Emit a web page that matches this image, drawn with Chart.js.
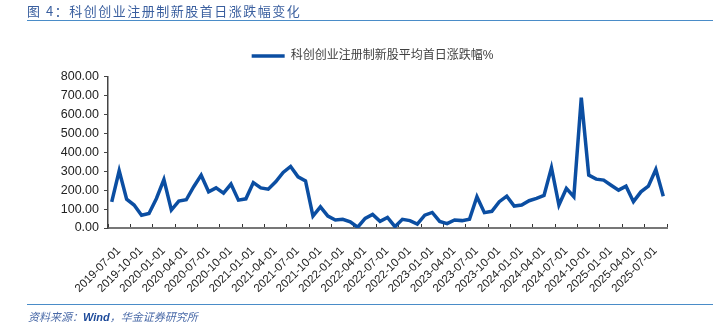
<!DOCTYPE html>
<html>
<head>
<meta charset="utf-8">
<script src="https://cdn.jsdelivr.net/npm/chart.js"></script>
<style>
    body { margin: 0; background: #fff; width: 713px; height: 329px; overflow: hidden; position: relative; font-family: 'Liberation Sans', 'Noto Sans CJK SC', sans-serif; }
    #title { position: absolute; left: 27px; top: 4px; font-size: 13px; letter-spacing: 1.5px; color: #3a5f9f; font-family: 'Noto Sans CJK SC', sans-serif; line-height: 14px; }
    #topline { position: absolute; left: 27px; right: 0; top: 20px; border-top: 1.5px solid #4a8cc8; }
    #bottomline { position: absolute; left: 27px; right: 0; top: 304px; border-top: 1.5px solid #4a8cc8; }
    #source { position: absolute; left: 28px; top: 310px; font-size: 11px; font-style: italic; color: #4a6aa8; font-family: 'Noto Sans CJK SC', sans-serif; line-height: 13px; }
    #source b { color: #1d4a9a; font-family: 'Liberation Sans', sans-serif; }
    #wrap { position: absolute; left: 0; top: 0; width: 713px; height: 329px; }
</style>
</head>
<body>
    <div id="wrap"><canvas id="myChart"></canvas></div>
    <div id="title">图 4：科创创业注册制新股首日涨跌幅变化</div>
    <div id="topline"></div>
    <div id="bottomline"></div>
    <div id="source">资料来源：<b>Wind</b>，华金证券研究所</div>

    <script>
        const seriesName = '科创创业注册制新股平均首日涨跌幅%';

        // monthly, 2019-07 .. 2025-09
        const months = [
            '2019-07-01','2019-08-01','2019-09-01','2019-10-01','2019-11-01','2019-12-01',
            '2020-01-01','2020-02-01','2020-03-01','2020-04-01','2020-05-01','2020-06-01',
            '2020-07-01','2020-08-01','2020-09-01','2020-10-01','2020-11-01','2020-12-01',
            '2021-01-01','2021-02-01','2021-03-01','2021-04-01','2021-05-01','2021-06-01',
            '2021-07-01','2021-08-01','2021-09-01','2021-10-01','2021-11-01','2021-12-01',
            '2022-01-01','2022-02-01','2022-03-01','2022-04-01','2022-05-01','2022-06-01',
            '2022-07-01','2022-08-01','2022-09-01','2022-10-01','2022-11-01','2022-12-01',
            '2023-01-01','2023-02-01','2023-03-01','2023-04-01','2023-05-01','2023-06-01',
            '2023-07-01','2023-08-01','2023-09-01','2023-10-01','2023-11-01','2023-12-01',
            '2024-01-01','2024-02-01','2024-03-01','2024-04-01','2024-05-01','2024-06-01',
            '2024-07-01','2024-08-01','2024-09-01','2024-10-01','2024-11-01','2024-12-01',
            '2025-01-01','2025-02-01','2025-03-01','2025-04-01','2025-05-01','2025-06-01',
            '2025-07-01','2025-08-01','2025-09-01'
        ];

        const firstDayChange = [
            138, 302, 152, 121, 67, 77,
            156, 256, 95, 142, 149, 218,
            279, 191, 212, 184, 232, 147,
            154, 240, 212, 205, 244, 293,
            325, 270, 249, 63, 112, 63,
            42, 46, 33, 4, 51, 72,
            35, 56, 7, 46, 39, 21,
            68, 82, 35, 23, 42, 39,
            46, 165, 81, 88, 139, 168,
            116, 121, 144, 156, 172, 319,
            121, 209, 165, 688, 279, 258,
            253, 226, 200, 221, 139, 191,
            221, 309, 168
        ];

        const yTicks = { min: 0, max: 800, step: 100 };

        const lineColor = '#0b4ea2';

        // empty axes used only as spacers so the legend sits where it does in the original
        const spacer = {
            display: true,
            ticks: { display: false },
            grid: { display: false },
            border: { display: false }
        };

        function drawChart() {
            const data = {
                labels: months,
                datasets: [{
                    label: seriesName,
                    data: firstDayChange,
                    borderColor: lineColor,
                    backgroundColor: lineColor,
                    borderWidth: 3.5,
                    pointRadius: 0,
                    tension: 0,
                    pointStyle: 'line'
                }]
            };

            const config = {
                type: 'line',
                data: data,
                options: {
                    responsive: true,
                    maintainAspectRatio: false,
                    animation: false,
                    layout: { padding: { left: 56, right: 24, top: 40, bottom: 29 } },
                    plugins: {
                        legend: {
                            position: 'top',
                            labels: {
                                usePointStyle: true,
                                pointStyle: 'line',
                                pointStyleWidth: 33,
                                padding: 10,
                                color: '#404040',
                                font: { family: "'Liberation Sans', 'Noto Sans CJK SC', sans-serif", size: 12 }
                            }
                        },
                        tooltip: { enabled: false }
                    },
                    scales: {
                        x: {
                            type: 'category',
                            offset: true,
                            afterFit: s => { s.height = 72; },
                            grid: {
                                offset: true,
                                drawOnChartArea: false,
                                tickLength: -4,
                                color: ctx => (ctx.index === undefined || ctx.index % 3 === 0) ? '#333' : 'rgba(0,0,0,0)'
                            },
                            border: { color: '#777', width: 2 },
                            ticks: {
                                autoSkip: false,
                                maxRotation: 45,
                                minRotation: 45,
                                padding: 20,
                                labelOffset: 7,
                                color: '#222',
                                font: { family: "'Liberation Sans', sans-serif", size: 11.5 },
                                callback: function (v, i) { return i % 3 === 0 ? months[i] : ''; }
                            }
                        },
                        xTop: Object.assign({ type: 'category', position: 'top', afterFit: s => { s.height = 4.5; } }, spacer),
                        y: {
                            min: yTicks.min,
                            max: yTicks.max,
                            afterFit: s => { s.width = 52; },
                            grid: { drawOnChartArea: false, tickLength: 4, color: '#444' },
                            border: { color: '#444', width: 1.5 },
                            ticks: {
                                stepSize: yTicks.step,
                                padding: 5,
                                color: '#222',
                                font: { family: "'Liberation Sans', sans-serif", size: 12.5 },
                                callback: v => v.toFixed(2)
                            }
                        },
                        yRight: Object.assign({ type: 'linear', position: 'right', afterFit: s => { s.width = 22; } }, spacer)
                    }
                }
            };

            new Chart(document.getElementById('myChart'), config);
        }

        drawChart();
    </script>
</body>
</html>
